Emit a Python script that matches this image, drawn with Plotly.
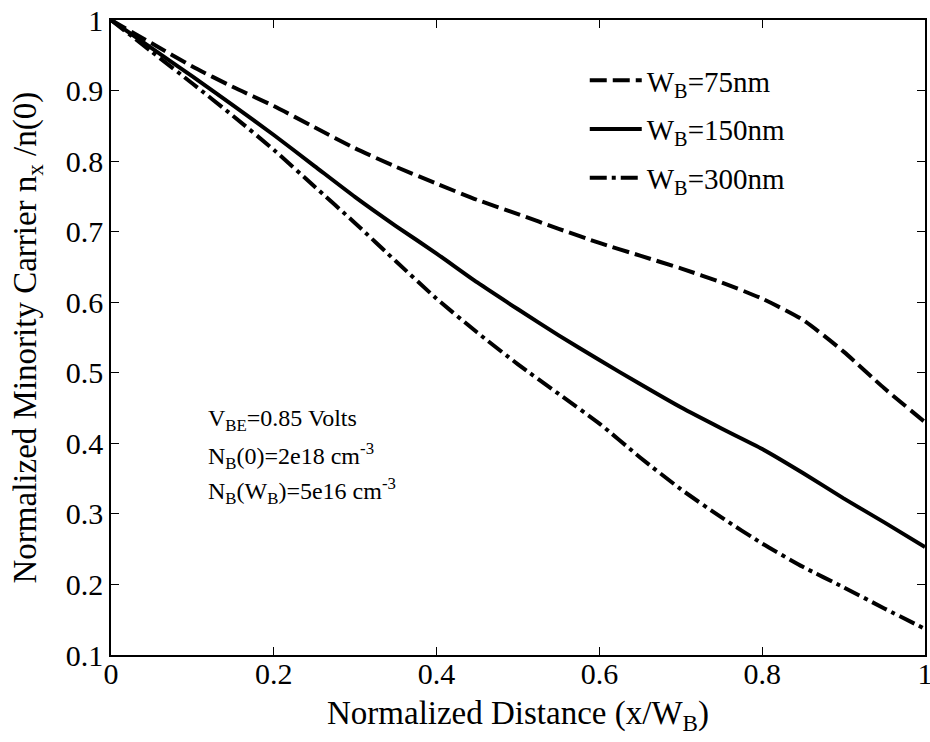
import plotly.graph_objects as go

x_norm = [0, 0.05, 0.1, 0.15, 0.2, 0.25, 0.3, 0.35, 0.4, 0.45, 0.5,
          0.55, 0.6, 0.65, 0.7, 0.75, 0.8, 0.85, 0.9, 0.95, 1.0]
n_75nm = [1, 0.967, 0.934, 0.905, 0.878, 0.848, 0.818, 0.792, 0.768, 0.745, 0.725,
          0.704, 0.684, 0.666, 0.648, 0.628, 0.605, 0.575, 0.530, 0.478, 0.430]
n_150nm = [1, 0.960, 0.920, 0.879, 0.837, 0.793, 0.749, 0.708, 0.669, 0.628, 0.590,
           0.553, 0.518, 0.484, 0.451, 0.421, 0.392, 0.358, 0.322, 0.288, 0.253]
n_300nm = [1, 0.955, 0.910, 0.864, 0.816, 0.764, 0.712, 0.658, 0.605, 0.557, 0.512,
           0.470, 0.428, 0.380, 0.335, 0.295, 0.258, 0.225, 0.196, 0.166, 0.137]

series_names = ["W<sub>B</sub>=75nm", "W<sub>B</sub>=150nm", "W<sub>B</sub>=300nm"]
x_ticks = [0, 0.2, 0.4, 0.6, 0.8, 1]
y_ticks = [0.1, 0.2, 0.3, 0.4, 0.5, 0.6, 0.7, 0.8, 0.9, 1]
notes = ["V<sub>BE</sub>=0.85 Volts",
         "N<sub>B</sub>(0)=2e18 cm<sup>-3</sup>",
         "N<sub>B</sub>(W<sub>B</sub>)=5e16 cm<sup>-3</sup>"]
note_y = [0.433, 0.382, 0.332]

FONT = "Liberation Serif, Times New Roman, serif"

fig = go.Figure()
styles = [("17px,6px", n_75nm), ("solid", n_150nm), ("17px,5px,4px,5px", n_300nm)]
for name, (dash, ys) in zip(series_names, styles):
    fig.add_trace(go.Scatter(
        x=x_norm, y=ys, mode="lines", name=name,
        line=dict(color="black", width=4, dash=dash, shape="spline", smoothing=0.6),
        legendgroup=name,
    ))

for txt, yv in zip(notes, note_y):
    fig.add_annotation(x=0.117, y=yv, xref="x", yref="y", text=txt, showarrow=False,
                       xanchor="left", yanchor="middle",
                       font=dict(family=FONT, size=24, color="black"))

fig.add_annotation(x=0.5, y=-0.0, xref="paper", yref="paper",
                   text="Normalized Distance (x/W<sub>B</sub>)", showarrow=False,
                   xanchor="center", yanchor="top", yshift=-38,
                   font=dict(family=FONT, size=33, color="black"))
fig.add_annotation(x=-0.102, y=0.5, xref="paper", yref="paper",
                   text="Normalized Minority Carrier n<sub>x</sub> /n(0)", showarrow=False,
                   xanchor="center", yanchor="middle", textangle=-90,
                   font=dict(family=FONT, size=33, color="black"))

axis_common = dict(showgrid=False, zeroline=False, showline=True, linecolor="black",
                   linewidth=1.5, mirror="ticks", ticks="inside", ticklen=8,
                   tickcolor="black", tickwidth=1.2, ticklabeloverflow="allow",
                   tickfont=dict(family=FONT, size=30, color="black"))

fig.update_xaxes(range=[0, 1], tickvals=x_ticks, ticktext=[f"{v:g}" for v in x_ticks],
                 ticklabelstandoff=-9, **axis_common)
fig.update_yaxes(range=[0.1, 1], tickvals=y_ticks, ticktext=[f"{v:g}" for v in y_ticks],
                 **axis_common)

fig.update_layout(
    width=930, height=742,
    margin=dict(l=111, r=5, t=20, b=87, autoexpand=False),
    paper_bgcolor="white", plot_bgcolor="white",
    showlegend=True,
    legend=dict(x=0.582, y=0.945, xanchor="left", yanchor="top",
                bgcolor="rgba(0,0,0,0)", borderwidth=0,
                font=dict(family=FONT, size=29, color="black"),
                tracegroupgap=8, itemwidth=52),
)

fig.write_html(
    "out.html",
    config={"displayModeBar": False},
    post_script="document.body.style.margin='0';document.body.style.overflow='hidden';",
)
